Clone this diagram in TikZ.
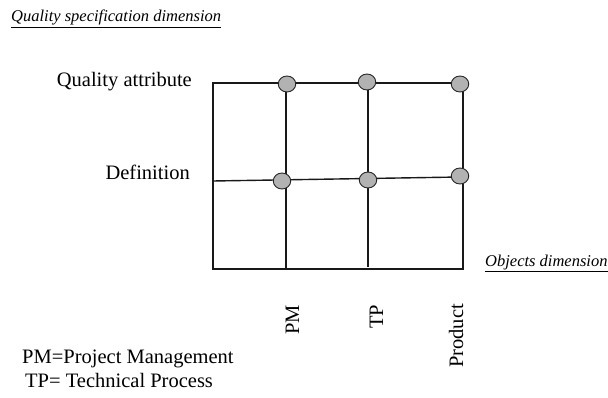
\documentclass[tikz,border=0pt]{standalone}
\usepackage{fontspec}
\setmainfont{Liberation Serif}
\begin{document}
\begin{tikzpicture}[x=1pt,y=-1pt,
  gridline/.style={line width=1.4pt,black!90},
  dot/.style={ellipse,draw=black!85,line width=0.9pt,fill=black!30,minimum width=17.5pt,minimum height=16pt,inner sep=0pt},
  biglabel/.style={inner sep=0pt,font=\fontsize{20.5}{24}\selectfont},
  dimlabel/.style={inner sep=0pt,font=\fontsize{16.5}{20}\selectfont\itshape}]
\useasboundingbox[fill=white] (0,0) rectangle (608,398);
\usetikzlibrary{shapes.geometric}
% grid corners
\coordinate (tl) at (213,83);
\coordinate (tr) at (463,83);
\coordinate (bl) at (213,269);
\coordinate (br) at (463,269);
\coordinate (ml) at (213,181);
\coordinate (pmb) at (286,270);
\coordinate (tpb) at (368,267);
% frame lines
\draw[gridline] (tr) -- (tl) -- (bl) -- (br) -- (tr);
\draw[gridline] (ml) -- (460,177);
\draw[gridline] (286,83) -- (pmb);
\draw[gridline] (368,83) -- (tpb);
% dots
\node[dot] (qa1) at (287,84) {};
\node[dot] (qa2) at (367,82) {};
\node[dot] (qa3) at (460,84) {};
\node[dot] (df1) at (282,181) {};
\node[dot] (df2) at (368,180) {};
\node[dot] (df3) at (460,176) {};
% labels
\node[biglabel,anchor=base east] (lqa) at (192,87) {Quality attribute};
\node[biglabel,anchor=base east] (ldf) at (190,180) {Definition};
\node[biglabel,anchor=base west,rotate=90] (lpm) at (299,335) {PM};
\node[biglabel,anchor=base west,rotate=90] (ltp) at (383,329) {TP};
\node[biglabel,anchor=base west,rotate=90] (lpr) at (463,368) {Product};
\node[biglabel,anchor=base west] (k1) at (22,363) {PM=Project Management};
\node[biglabel,anchor=base west] (k2) at (25,387) {TP= Technical Process};
\node[dimlabel,anchor=base west] (qsd) at (11,22) {\underline{Quality specification dimension}};
\node[dimlabel,anchor=base west] (od) at (485,266) {\underline{Objects dimension}};
\end{tikzpicture}
\end{document}
